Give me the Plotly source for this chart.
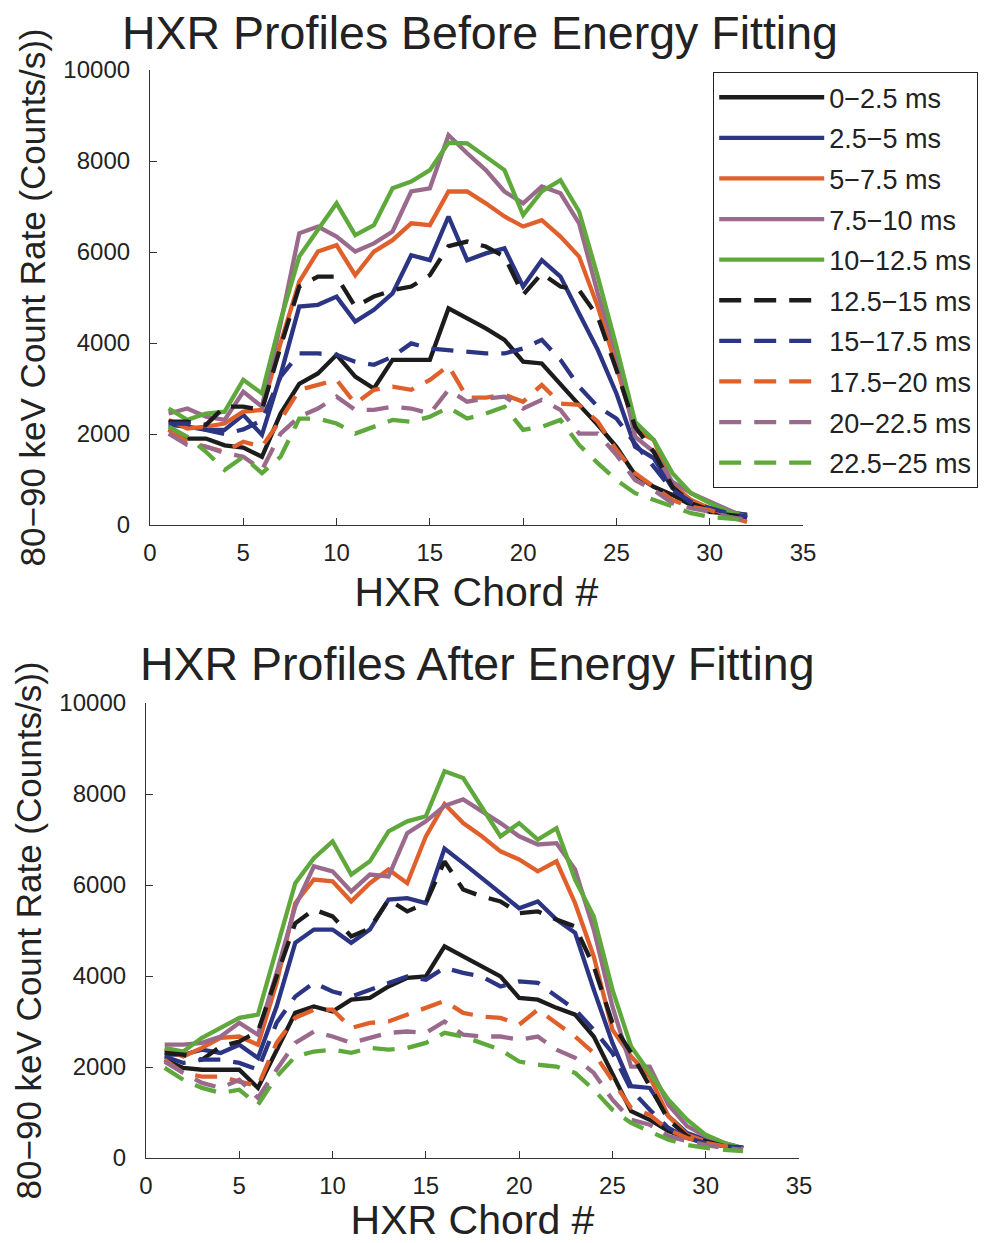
import plotly.graph_objects as go

# HXR chord numbers
chords = list(range(1, 33))

labels = ['0\u22122.5 ms', '2.5\u22125 ms', '5\u22127.5 ms', '7.5\u221210 ms', '10\u221212.5 ms',
          '12.5\u221215 ms', '15\u221217.5 ms', '17.5\u221220 ms', '20\u221222.5 ms', '22.5\u221225 ms']

# before energy fitting (counts/s), one list per time window
before_00_25 = [2100, 1900, 1900, 1750, 1700, 1500, 2450, 3100, 3330, 3740, 3260, 3000, 3630, 3630, 3630, 4760,
                4540, 4320, 4070, 3590, 3550, 3080, 2640, 2200, 1720, 1100, 840, 660, 440, 290, 260, 220]
before_25_50 = [2200, 2160, 2090, 2090, 2420, 1980, 3300, 4800, 4840, 5020, 4470, 4730, 5090, 5930, 5820, 6780,
                5820, 5970, 6080, 5240, 5820, 5460, 4650, 3850, 2890, 1720, 1470, 810, 480, 370, 290, 220]
before_50_75 = [2310, 2120, 2160, 2230, 2490, 2530, 4000, 5350, 6010, 6150, 5490, 6010, 6260, 6630, 6590, 7330,
                7330, 7070, 6780, 6560, 6700, 6340, 5900, 4800, 3480, 2090, 1870, 880, 550, 370, 220, 150]
before_75_100 = [2450, 2560, 2380, 2310, 2930, 2600, 4430, 6410, 6560, 6340, 6010, 6190, 6450, 7330, 7400, 8570,
                 8170, 7800, 7330, 7070, 7440, 7290, 6630, 5090, 3770, 1940, 1610, 950, 700, 510, 330, 150]
before_100_125 = [2560, 2310, 2450, 2490, 3190, 2890, 4500, 5900, 6490, 7070, 6370, 6590, 7400, 7550, 7800, 8400,
                  8390, 8100, 7800, 6810, 7330, 7580, 6890, 5460, 3920, 2270, 1870, 1140, 700, 480, 290, 180]
before_125_150 = [2270, 2270, 2200, 2600, 2600, 2530, 3920, 5240, 5460, 5460, 4800, 5020, 5160, 5240, 5490, 6130,
                  6230, 6120, 5900, 5060, 5530, 5240, 5160, 4580, 3410, 2160, 1610, 840, 480, 330, 220, 180]
before_150_175 = [2230, 2230, 2090, 2000, 2100, 2300, 3260, 3770, 3770, 3740, 3590, 3520, 3700, 3990, 3880, 3850,
                  3810, 3770, 3770, 3880, 4070, 3630, 3040, 2600, 2340, 1790, 1280, 770, 510, 370, 260, 180]
before_175_200 = [2090, 1830, 1720, 1610, 1830, 1720, 2310, 2970, 3080, 3190, 2670, 2970, 3040, 2970, 3190, 3500,
                  2800, 2800, 2860, 2710, 3080, 2670, 2640, 2270, 1650, 1140, 840, 550, 400, 330, 180, 70]
before_200_225 = [2010, 1760, 1720, 1580, 1500, 1210, 2010, 2380, 2560, 2820, 2530, 2530, 2600, 2560, 2450, 2970,
                  2710, 2780, 2820, 2560, 2750, 2530, 2010, 2010, 1540, 990, 770, 480, 370, 290, 180, 110]
before_225_250 = [2160, 1940, 1610, 1210, 1500, 1140, 1500, 2340, 2340, 2230, 2010, 2160, 2310, 2270, 2380, 2580,
                  2340, 2450, 2600, 2090, 2160, 2310, 1760, 1360, 990, 700, 550, 400, 260, 180, 150, 110]

# after energy fitting
after_00_25 = [2160, 1980, 1940, 1940, 1940, 1540, 2380, 3190, 3330, 3220, 3480, 3520, 3770, 3960, 3990, 4650,
               4430, 4210, 3990, 3520, 3480, 3300, 3150, 2670, 1870, 1030, 840, 590, 440, 330, 260, 220]
after_25_50 = [2270, 2270, 2380, 2310, 2490, 2200, 3330, 4730, 5020, 5020, 4730, 5020, 5680, 5710, 5600, 6800,
               6480, 6150, 5820, 5490, 5640, 5240, 4950, 3700, 2530, 1580, 1540, 920, 550, 400, 290, 220]
after_50_75 = [2380, 2230, 2420, 2640, 2670, 2490, 3850, 5600, 6120, 6080, 5640, 6040, 6340, 6040, 7070, 7780,
               7360, 7070, 6740, 6560, 6300, 6520, 5600, 4430, 2820, 2230, 1790, 920, 510, 370, 290, 220]
after_75_100 = [2490, 2490, 2530, 2670, 2970, 2710, 4070, 5530, 6410, 6300, 5860, 6230, 6190, 7140, 7400, 7740,
                7880, 7620, 7360, 7070, 6890, 6920, 6340, 5020, 3330, 2010, 2010, 1170, 700, 480, 330, 220]
after_100_125 = [2420, 2340, 2640, 2860, 3080, 3150, 4580, 6040, 6590, 6960, 6230, 6520, 7180, 7400, 7510, 8500,
                 8350, 7730, 7070, 7360, 7000, 7250, 6120, 5310, 3700, 2450, 1870, 1280, 840, 510, 330, 220]
after_125_150 = [2310, 2270, 2160, 2450, 2560, 2780, 3990, 5160, 5460, 5310, 4870, 5050, 5680, 5420, 5600, 6520,
                 5900, 5750, 5640, 5380, 5420, 5240, 5090, 4210, 2970, 2310, 1580, 840, 480, 370, 260, 220]
after_150_175 = [2230, 2090, 2160, 2160, 2090, 1940, 2970, 3550, 3850, 3660, 3550, 3700, 3850, 3990, 3920, 4180,
                 4070, 3990, 3770, 3880, 3850, 3550, 3260, 2820, 2310, 1500, 1060, 660, 440, 330, 260, 220]
after_175_200 = [2160, 1870, 1790, 1790, 1680, 1580, 2530, 3080, 3260, 3260, 2860, 2970, 3000, 3150, 3300, 3450,
                 3190, 3110, 3080, 2930, 3260, 2970, 2670, 2310, 1720, 1100, 950, 620, 440, 330, 260, 200]
after_200_225 = [2120, 1870, 1650, 1540, 1720, 1320, 1940, 2530, 2780, 2670, 2530, 2640, 2750, 2780, 2750, 3000,
                 2710, 2670, 2670, 2600, 2670, 2380, 2200, 1870, 1280, 840, 730, 480, 370, 290, 220, 180]
after_225_250 = [1980, 1720, 1540, 1430, 1500, 1170, 1790, 2230, 2340, 2380, 2310, 2420, 2380, 2420, 2530, 2750,
                 2670, 2530, 2380, 2120, 2050, 2010, 1870, 1500, 1060, 770, 590, 400, 290, 220, 180, 150]

before = [before_00_25, before_25_50, before_50_75, before_75_100, before_100_125,
          before_125_150, before_150_175, before_175_200, before_200_225, before_225_250]
after = [after_00_25, after_25_50, after_50_75, after_75_100, after_100_125,
         after_125_150, after_150_175, after_175_200, after_200_225, after_225_250]

colors = ['#1c1c1c', '#2b3583', '#e0602c', '#9a6a8c', '#5ea83c'] * 2
dashes = ['solid'] * 5 + ['22px,13px'] * 5

FONT = 'Liberation Sans, Arial, sans-serif'
TXT = '#222222'

fig = go.Figure()
for i in range(10):
    fig.add_trace(go.Scatter(
        x=chords, y=before[i], mode='lines', name=labels[i], legendgroup=labels[i],
        line=dict(color=colors[i], width=4.3, dash=dashes[i]),
        xaxis='x', yaxis='y'
    ))
for i in range(10):
    fig.add_trace(go.Scatter(
        x=chords, y=after[i], mode='lines', name=labels[i], showlegend=False,
        line=dict(color=colors[i], width=4.3, dash=dashes[i]),
        xaxis='x2', yaxis='y2'
    ))

W, H = 990, 1243
L, R, T, B = 146, 187, 70, 85
PW, PH = W - L - R, H - T - B


def px(v):
    return (v - L) / PW


def py(v):
    return 1 - (v - T) / PH


axis_common = dict(
    range=[0, 35], dtick=5, showline=True, linecolor='#333333', linewidth=1.2,
    ticks='inside', ticklen=7, tickcolor='#333333', showgrid=False, zeroline=False,
    tickfont=dict(family=FONT, size=24, color=TXT), ticklabelstandoff=6, automargin=False
)
yaxis_common = dict(
    range=[0, 10000], dtick=2000, tickformat='d', showline=True, linecolor='#333333', linewidth=1.2,
    ticks='inside', ticklen=7, tickcolor='#333333', showgrid=False, zeroline=False,
    tickfont=dict(family=FONT, size=24, color=TXT), ticklabelstandoff=14, automargin=False
)

ytitle = '80\u221290 keV Count Rate (Counts/s))'
xtitle = dict(text='HXR Chord #', font=dict(size=41, family=FONT, color=TXT), standoff=12)
ytitle_d = dict(text=ytitle, font=dict(size=35, family=FONT, color=TXT), standoff=7)

fig.update_layout(
    width=W, height=H,
    margin=dict(l=L, r=R, t=T, b=B),
    paper_bgcolor='white', plot_bgcolor='white',
    font=dict(family=FONT, color=TXT),
    xaxis=dict(axis_common, domain=[px(150), px(803)], anchor='y', title=xtitle),
    yaxis=dict(yaxis_common, domain=[py(525), py(70)], anchor='x', title=ytitle_d),
    xaxis2=dict(axis_common, domain=[px(146), px(799)], anchor='y2', title=xtitle),
    yaxis2=dict(yaxis_common, domain=[py(1158), py(703)], anchor='x2', title=ytitle_d),
    legend=dict(
        x=px(713), y=py(72), xanchor='left', yanchor='top',
        bgcolor='white', bordercolor='#222222', borderwidth=1.2,
        font=dict(family=FONT, size=27, color=TXT),
        itemwidth=105, tracegroupgap=2.5
    ),
    annotations=[
        dict(text='HXR Profiles Before Energy Fitting', x=px(480), y=py(33), xref='paper', yref='paper',
             showarrow=False, xanchor='center', yanchor='middle',
             font=dict(family=FONT, size=46.5, color=TXT)),
        dict(text='HXR Profiles After Energy Fitting', x=px(477), y=py(664), xref='paper', yref='paper',
             showarrow=False, xanchor='center', yanchor='middle',
             font=dict(family=FONT, size=46.5, color=TXT)),
    ]
)

# drop the default page margin so the figure sits at the window's top-left corner
fig.write_html('out.html', config={'displayModeBar': False},
               post_script="document.body.style.margin='0';")
